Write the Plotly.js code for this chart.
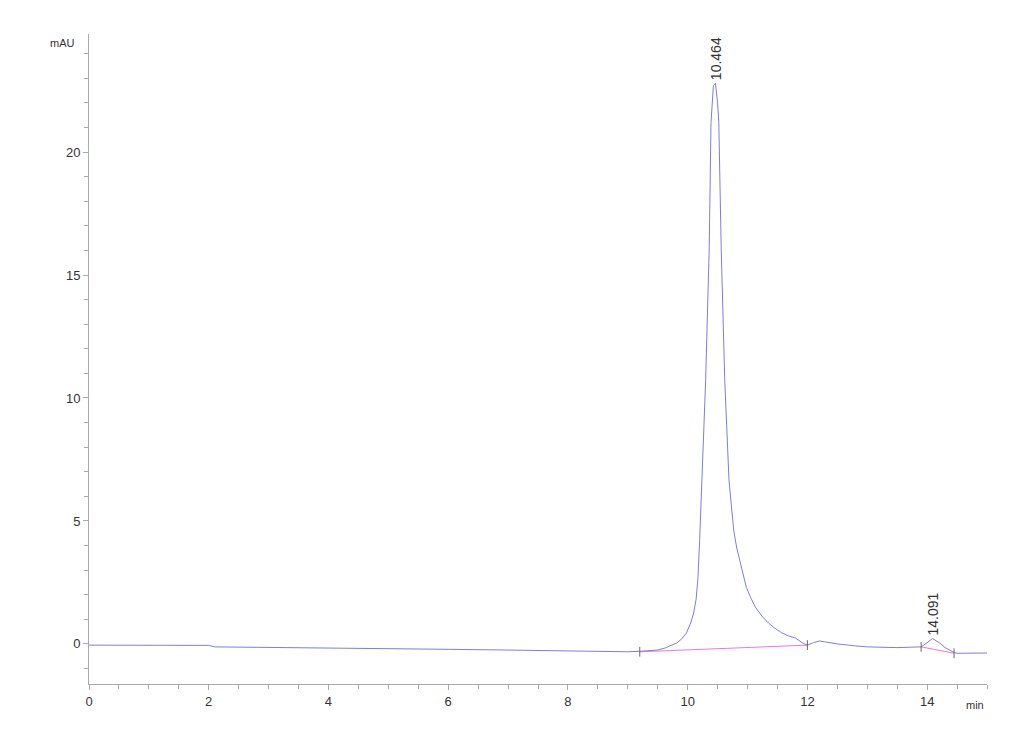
<!DOCTYPE html>
<html>
<head>
<meta charset="utf-8">
<script src="https://cdn.plot.ly/plotly-3.0.1.min.js"></script>
<style>html,body{margin:0;padding:0;background:#fff}#chart{width:1030px;height:755px}</style>
</head>
<body>
<div id="chart"></div>
<script>
// Chromatogram signal (time in min, absorbance in mAU)
const timeMin = [0, 1, 2, 2.1, 3, 4, 5, 6, 7, 8, 9, 9.2, 9.5, 9.63, 9.75, 9.82, 9.9, 9.98, 10.05, 10.1, 10.14, 10.17, 10.2, 10.24, 10.3, 10.36, 10.39, 10.43, 10.464, 10.5, 10.52, 10.56, 10.62, 10.69, 10.73, 10.77, 10.82, 10.88, 10.93, 10.98, 11.05, 11.13, 11.25, 11.35, 11.45, 11.57, 11.68, 11.8, 11.93, 12.0, 12.1, 12.2, 12.3, 12.5, 12.8, 13.0, 13.5, 13.9, 14.0, 14.091, 14.2, 14.3, 14.45, 14.5, 15];
const signalMAU = [-0.05, -0.05, -0.06, -0.12, -0.14, -0.15, -0.2, -0.22, -0.25, -0.3, -0.32, -0.3, -0.25, -0.16, -0.05, 0.04, 0.2, 0.45, 0.85, 1.26, 1.8, 2.6, 4.2, 6.67, 10.7, 16.1, 21.2, 22.7, 22.8, 22.0, 21.2, 16.1, 10.7, 6.67, 5.5, 4.6, 3.9, 3.3, 2.75, 2.3, 1.9, 1.5, 1.1, 0.85, 0.65, 0.45, 0.33, 0.24, 0.02, -0.05, 0.05, 0.12, 0.08, 0.0, -0.08, -0.12, -0.15, -0.12, 0.05, 0.22, 0.05, -0.15, -0.35, -0.38, -0.37];

// Integration baselines
const base1Time = [9.2, 12.0];
const base1MAU = [-0.32, -0.05];
const base2Time = [13.9, 14.45];
const base2MAU = [-0.12, -0.38];

// Integration event markers
const eventTime = [9.2, 12.0, 13.9, 14.45];
const eventMAU = [-0.32, -0.05, -0.12, -0.38];

// Peak labels
const peakTime = [10.464, 14.091];
const peakHeight = [22.8, 0.22];
const peakLabels = ['10.464', '14.091'];

const blue = 'rgb(125,125,225)';
const pink = 'rgb(235,120,225)';

const traces = [
  {x: base1Time, y: base1MAU, mode: 'lines', line: {color: pink, width: 1}, hoverinfo: 'skip'},
  {x: base2Time, y: base2MAU, mode: 'lines', line: {color: pink, width: 1}, hoverinfo: 'skip'},
  {x: timeMin, y: signalMAU, mode: 'lines', line: {color: blue, width: 1}},
  {x: eventTime, y: eventMAU, mode: 'markers', marker: {symbol: 'line-ns', size: 7, line: {color: '#666', width: 1}}, hoverinfo: 'skip'}
];

const annotations = peakTime.map((t, i) => ({
  x: t, y: peakHeight[i], xref: 'x', yref: 'y', text: peakLabels[i],
  showarrow: false, textangle: -90, xanchor: 'center', yanchor: 'bottom', yshift: 1,
  font: {family: 'Liberation Sans, Arial, sans-serif', size: 14, color: '#333'}
}));
annotations.push({
  xref: 'paper', yref: 'paper', x: 0, y: 1, xanchor: 'right', yanchor: 'middle', xshift: -12, yshift: -9,
  text: 'mAU', showarrow: false, font: {family: 'Liberation Sans, Arial, sans-serif', size: 11, color: '#333'}
});
annotations.push({
  xref: 'paper', yref: 'paper', x: 0.987, y: 0, xanchor: 'center', yanchor: 'middle', yshift: -21,
  text: 'min', showarrow: false, font: {family: 'Liberation Sans, Arial, sans-serif', size: 11, color: '#333'}
});

const axisCommon = {
  showgrid: false, zeroline: false, showline: true, linecolor: '#aaa', linewidth: 1,
  ticks: 'outside', ticklen: 5, tickcolor: '#aaa', tickwidth: 1,
  tickfont: {family: 'Liberation Sans, Arial, sans-serif', size: 13, color: '#333'}
};

const layout = {
  width: 1030, height: 755,
  margin: {l: 89, r: 43, t: 34, b: 71},
  paper_bgcolor: '#fff', plot_bgcolor: '#fff',
  showlegend: false,
  xaxis: Object.assign({}, axisCommon, {
    range: [0, 15], tickvals: [0, 2, 4, 6, 8, 10, 12, 14],
    minor: {dtick: 0.5, tick0: 0, ticks: 'outside', ticklen: 4, tickcolor: '#aaa'}
  }),
  yaxis: Object.assign({}, axisCommon, {
    range: [-1.63, 24.8], tickvals: [0, 5, 10, 15, 20],
    minor: {dtick: 1, tick0: 0, ticks: 'outside', ticklen: 4, tickcolor: '#aaa'}
  }),
  annotations: annotations
};

Plotly.newPlot('chart', traces, layout, {displayModeBar: false, staticPlot: true});
</script>
</body>
</html>
